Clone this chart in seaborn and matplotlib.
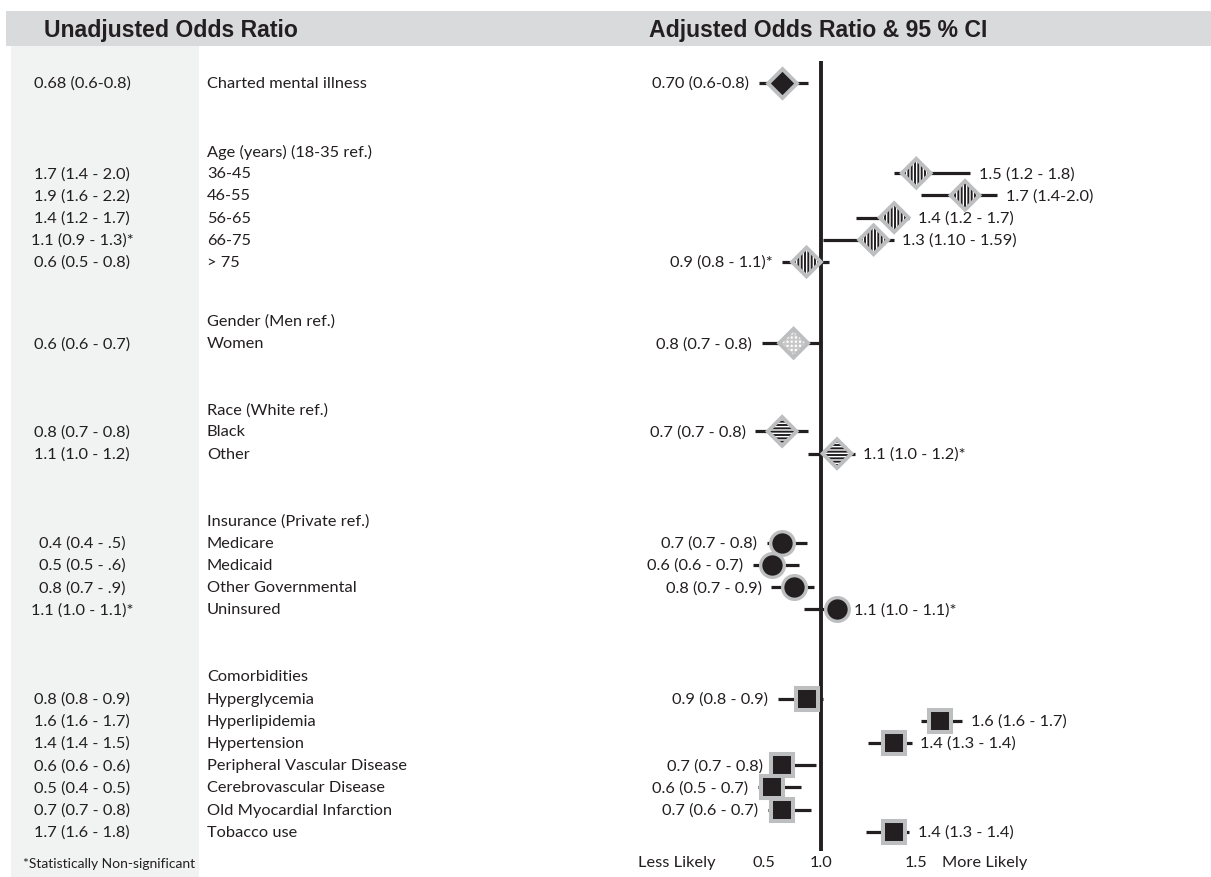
import numpy as np
import pandas as pd
import matplotlib
matplotlib.use("Agg")
import matplotlib.pyplot as plt
import seaborn as sns
from matplotlib.patches import Rectangle

# ------------------------------------------------------------------ data
group_headers = [None, "Age (years) (18-35 ref.)", "Gender (Men ref.)",
                 "Race (White ref.)", "Insurance (Private ref.)", "Comorbidities"]
group_items = [
    ["Charted mental illness"],
    ["36-45", "46-55", "56-65", "66-75", "> 75"],
    ["Women"],
    ["Black", "Other"],
    ["Medicare", "Medicaid", "Other Governmental", "Uninsured"],
    ["Hyperglycemia", "Hyperlipidemia", "Hypertension", "Peripheral Vascular Disease",
     "Cerebrovascular Disease", "Old Myocardial Infarction", "Tobacco use"],
]
group_kinds = ["mental", "age", "gender", "race", "insurance", "comorbidity"]

unadjusted_labels = [
    "0.68 (0.6-0.8)",
    "1.7 (1.4 - 2.0)", "1.9 (1.6 - 2.2)", "1.4 (1.2 - 1.7)", "1.1 (0.9 - 1.3)*", "0.6 (0.5 - 0.8)",
    "0.6 (0.6 - 0.7)",
    "0.8 (0.7 - 0.8)", "1.1 (1.0 - 1.2)",
    "0.4 (0.4 - .5)", "0.5 (0.5 - .6)", "0.8 (0.7 - .9)", "1.1 (1.0 - 1.1)*",
    "0.8 (0.8 - 0.9)", "1.6 (1.6 - 1.7)", "1.4 (1.4 - 1.5)", "0.6 (0.6 - 0.6)",
    "0.5 (0.4 - 0.5)", "0.7 (0.7 - 0.8)", "1.7 (1.6 - 1.8)",
]
adjusted_or = [0.70,
               1.5, 1.7, 1.4, 1.3, 0.9,
               0.8,
               0.7, 1.1,
               0.7, 0.6, 0.8, 1.1,
               0.9, 1.6, 1.4, 0.7, 0.6, 0.7, 1.4]
adjusted_labels = [
    "0.70 (0.6-0.8)",
    "1.5 (1.2 - 1.8)", "1.7 (1.4-2.0)", "1.4 (1.2 - 1.7)", "1.3 (1.10 - 1.59)", "0.9 (0.8 - 1.1)*",
    "0.8 (0.7 - 0.8)",
    "0.7 (0.7 - 0.8)", "1.1 (1.0 - 1.2)*",
    "0.7 (0.7 - 0.8)", "0.6 (0.6 - 0.7)", "0.8 (0.7 - 0.9)", "1.1 (1.0 - 1.1)*",
    "0.9 (0.8 - 0.9)", "1.6 (1.6 - 1.7)", "1.4 (1.3 - 1.4)", "0.7 (0.7 - 0.8)",
    "0.6 (0.5 - 0.7)", "0.7 (0.6 - 0.7)", "1.4 (1.3 - 1.4)",
]
# whisker ends as drawn in the picture (read on the chart's own axis)
whisker_lo = [0.43,
              1.40, 1.52, 1.21, 1.01, 0.70,
              0.47,
              0.37, 0.91,
              0.54, 0.33, 0.59, 0.88,
              0.66, 1.52, 1.27, 0.61, 0.42, 0.55, 1.26]
whisker_hi = [0.91,
              1.72, 1.82, 1.47, 1.40, 1.05,
              0.99,
              0.91, 1.20,
              0.90, 0.84, 0.95, 1.15,
              1.01, 1.69, 1.48, 0.97, 0.86, 0.93, 1.47]
tick_values = [0.5, 1.0, 1.5]
tick_labels = ["0.5", "1.0", "1.5"]
reference_value = 1.0

# ------------------------------------------------------------------ layout / style
W, H = 1211, 878
ROW_STEP = 22.2
FIRST_ROW = 84
GROUP_GAPS = [68, 59, 66, 67, 67]
INK = "#231f20"
EDGE_GRAY = "#bcbec0"
BAND = "#d9dadb"
PANEL = "#f1f2f2"
BODY_FS = 11.8

sns.set_theme(style="white")
plt.rcParams["font.family"] = ["Lato", "DejaVu Sans"]
plt.rcParams["hatch.linewidth"] = 1.4

# row positions
rows, header_rows = [], []
y = FIRST_ROW
for gi, (hdr, items, kind) in enumerate(zip(group_headers, group_items, group_kinds)):
    if gi > 0:
        y = y + GROUP_GAPS[gi - 1]
    if hdr is not None:
        header_rows.append((hdr, y))
        y = y + ROW_STEP
    for k, it in enumerate(items):
        if k > 0:
            y = y + ROW_STEP
        rows.append((it, kind, y))

df = pd.DataFrame(rows, columns=["item", "kind", "y"])
df["or_adj"] = adjusted_or
df["lo"] = whisker_lo
df["hi"] = whisker_hi
df["label"] = adjusted_labels
df["unadj"] = unadjusted_labels

fig = plt.figure(figsize=(W / 100, H / 100), dpi=100)

# ---------------- text layer (pixel coordinates)
tax = fig.add_axes([0, 0, 1, 1])
tax.set_xlim(0, W)
tax.set_ylim(H, 0)
tax.axis("off")
tax.add_patch(Rectangle((6, 12), W - 6, 35, color=BAND, lw=0))
tax.add_patch(Rectangle((11, 47), 188, H - 47, color=PANEL, lw=0))

head_font = ["Liberation Sans", "DejaVu Sans"]
tax.text(44, 30, "Unadjusted Odds Ratio", fontsize=16.6, fontweight="bold",
         family=head_font, color=INK, va="center", ha="left")
tax.text(649, 30, "Adjusted Odds Ratio & 95 % CI", fontsize=16.6, fontweight="bold",
         family=head_font, color=INK, va="center", ha="left")

for hdr, yy in header_rows:
    tax.text(207, yy, hdr, fontsize=BODY_FS, color=INK, va="center", ha="left")
for _, r in df.iterrows():
    tax.text(207, r["y"], r["item"], fontsize=BODY_FS, color=INK, va="center", ha="left")
    tax.text(82, r["y"], r["unadj"], fontsize=BODY_FS, color=INK, va="center", ha="center")

tax.text(23, 864, "*Statistically Non-significant", fontsize=10, color=INK,
         va="center", ha="left")
tax.text(677, 863, "Less Likely", fontsize=BODY_FS, color=INK, va="center", ha="center")
tax.text(942, 863, "More Likely", fontsize=BODY_FS, color=INK, va="center", ha="left")

# ---------------- forest axes
P0 = 744.8      # pixel of value 0 on the axis
K = 76.2        # pixels per unit of value**2
XMAX = 2.2
TOP, BOT = 62, 852
ax = fig.add_axes([P0 / W, (H - BOT) / H, K * XMAX ** 2 / W, (BOT - TOP) / H])
ax.patch.set_alpha(0)

ax.axvline(reference_value, color=INK, lw=2.8, zorder=1)
ax.hlines(df["y"], df["lo"], df["hi"], color=INK, lw=2.3, zorder=2)

common = dict(x="or_adj", y="y", ax=ax, legend=False, zorder=3)
DIAMOND_S = 215

sub = df[df.kind == "mental"]
sns.scatterplot(data=sub, marker="D", s=DIAMOND_S, color=INK, edgecolor=EDGE_GRAY,
                linewidth=2.8, joinstyle="miter", **common)

for kind, hatch, hcol in [("age", "|||||", INK), ("race", "-----", INK),
                          ("gender", "++++", "#c8c8c8")]:
    sub = df[df.kind == kind]
    sns.scatterplot(data=sub, marker="D", s=DIAMOND_S, color="white", edgecolor=hcol,
                    linewidth=0, hatch=hatch, **common)
    sns.scatterplot(data=sub, marker="D", s=DIAMOND_S, color="none", edgecolor=EDGE_GRAY,
                    linewidth=2.8, joinstyle="miter", **common)

sub = df[df.kind == "insurance"]
sns.scatterplot(data=sub, marker="o", s=290, color=INK, edgecolor=EDGE_GRAY,
                linewidth=2.4, **common)

sub = df[df.kind == "comorbidity"]
sns.scatterplot(data=sub, marker="s", s=272, color=INK, edgecolor=EDGE_GRAY,
                linewidth=2.9, joinstyle="miter", **common)

for _, r in df.iterrows():
    if r["or_adj"] > reference_value:
        ax.annotate(r["label"], xy=(r["hi"], r["y"]), xytext=(6, 0),
                    textcoords="offset points", ha="left", va="center",
                    fontsize=BODY_FS, color=INK, annotation_clip=False)
    else:
        ax.annotate(r["label"], xy=(r["lo"], r["y"]), xytext=(-7, 0),
                    textcoords="offset points", ha="right", va="center",
                    fontsize=BODY_FS, color=INK, annotation_clip=False)

ax.set_xscale("function",
              functions=(lambda v: np.sign(v) * v ** 2,
                         lambda u: np.sign(u) * np.sqrt(np.abs(u))))
ax.set_xlim(0, XMAX)
ax.set_ylim(BOT, TOP)
ax.set_xticks(tick_values)
ax.set_xticklabels(tick_labels)
ax.set_yticks([])
ax.set_xlabel("")
ax.set_ylabel("")
ax.tick_params(axis="x", length=0, pad=3, labelsize=BODY_FS, colors=INK)
for sp in ax.spines.values():
    sp.set_visible(False)

fig.savefig("out.png", dpi=100)
